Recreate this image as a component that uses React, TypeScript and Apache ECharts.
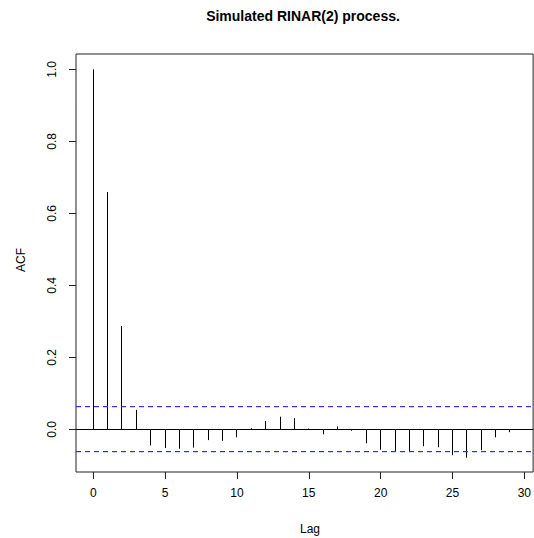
import React, { useEffect, useRef } from "react";
import * as echarts from "echarts";

const lags = [0, 1, 2, 3, 4, 5, 6, 7, 8, 9, 10, 11, 12, 13, 14, 15, 16, 17, 18, 19, 20, 21, 22, 23, 24, 25, 26, 27, 28, 29];
const acfValues = [
  1.0, 0.659, 0.287, 0.054, -0.045, -0.052, -0.054, -0.051, -0.03, -0.032,
  -0.022, 0.003, 0.023, 0.035, 0.031, 0.002, -0.014, 0.008, -0.004, -0.039,
  -0.057, -0.062, -0.062, -0.047, -0.05, -0.072, -0.079, -0.058, -0.022, -0.008,
];
const xTicks = [0, 5, 10, 15, 20, 25, 30];
const yTicks = [0, 0.2, 0.4, 0.6, 0.8, 1.0];
const ciLevels = [0.062, -0.062];
const zeroLevel = 0;
const titleText = "Simulated RINAR(2) process.";
const xName = "Lag";
const yName = "ACF";

const FONT = "'Liberation Sans', Arial, Helvetica, sans-serif";
const BLUE = "#2f2ff5";

const snap = (v: number) => Math.round(v - 0.5) + 0.5;

export default function App() {
  const ref = useRef<HTMLDivElement>(null);
  useEffect(() => {
    if (!ref.current) return;
    const chart = echarts.init(ref.current, undefined, { renderer: "svg" });
    const data = lags.map((l, i) => [l, acfValues[i]]);
    chart.setOption({
      animation: false,
      backgroundColor: "#fff",
      textStyle: { fontFamily: FONT },
      grid: {
        left: 76,
        top: 54,
        width: 460,
        height: 418,
        show: true,
        borderColor: "#222",
        borderWidth: 1,
        backgroundColor: "transparent",
      },
      xAxis: {
        type: "value",
        min: -1.2,
        max: -1.2 + 460 / 14.46,
        splitLine: { show: false },
        axisLine: { show: false, onZero: false },
        axisTick: { show: true, customValues: xTicks, length: 7, lineStyle: { color: "#222" } },
        axisLabel: {
          show: true,
          customValues: xTicks,
          margin: 15,
          fontSize: 12,
          color: "#000",
          fontFamily: FONT,
        },
      },
      yAxis: {
        type: "value",
        min: -0.1186,
        max: 1.0425,
        splitLine: { show: false },
        axisLine: { show: false, onZero: false },
        axisTick: { show: true, customValues: yTicks, length: 7, lineStyle: { color: "#222" } },
        axisLabel: {
          show: true,
          customValues: yTicks,
          rotate: 90,
          margin: 18,
          fontSize: 12,
          color: "#000",
          fontFamily: FONT,
          formatter: (v: number) => v.toFixed(1),
        },
      },
      graphic: [
        {
          type: "text",
          x: 303,
          y: 16,
          style: {
            text: titleText,
            fontSize: 14,
            fontWeight: "bold",
            fontFamily: FONT,
            fill: "#000",
            textAlign: "center",
            textVerticalAlign: "middle",
          },
        },
        {
          type: "text",
          x: 310,
          y: 529,
          style: {
            text: xName,
            fontSize: 12,
            fontFamily: FONT,
            fill: "#000",
            textAlign: "center",
            textVerticalAlign: "middle",
          },
        },
        {
          type: "text",
          x: 21,
          y: 260,
          rotation: Math.PI / 2,
          style: {
            text: yName,
            fontSize: 12,
            fontFamily: FONT,
            fill: "#000",
            textAlign: "center",
            textVerticalAlign: "middle",
          },
        },
      ],
      series: [
        {
          type: "custom",
          data,
          clip: true,
          renderItem: (params: any, api: any) => {
            const lag = api.value(0);
            const v = api.value(1);
            const p0 = api.coord([lag, 0]);
            const p1 = api.coord([lag, v]);
            const x = snap(p0[0]);
            return {
              type: "line",
              shape: { x1: x, y1: p0[1], x2: x, y2: p1[1] },
              style: { stroke: "#000", lineWidth: 1 },
            };
          },
        },
        {
          type: "custom",
          data: [[zeroLevel]],
          dimensions: ["zero"],
          encode: { y: [0] },
          renderItem: (params: any, api: any) => {
            const cs = params.coordSys;
            const y = snap(api.coord([0, api.value(0)])[1]);
            return {
              type: "line",
              shape: { x1: cs.x, y1: y, x2: cs.x + cs.width, y2: y },
              style: { stroke: "#000", lineWidth: 1 },
            };
          },
        },
        {
          type: "custom",
          data: ciLevels.map((v) => [v]),
          dimensions: ["ci"],
          encode: { y: [0] },
          z: 5,
          renderItem: (params: any, api: any) => {
            const cs = params.coordSys;
            const y = snap(api.coord([0, api.value(0)])[1]);
            const children: any[] = [];
            for (let x = cs.x; x < cs.x + cs.width; x += 9) {
              children.push({
                type: "rect",
                shape: { x: x, y: y - 0.5, width: 5, height: 1.2 },
                style: { fill: BLUE },
              });
            }
            return { type: "group", children };
          },
        },
      ],
    });
    return () => chart.dispose();
  }, []);
  return (
    <div
      ref={ref}
      style={{ position: "fixed", left: 0, top: 0, width: 534, height: 538, background: "#fff" }}
    />
  );
}
